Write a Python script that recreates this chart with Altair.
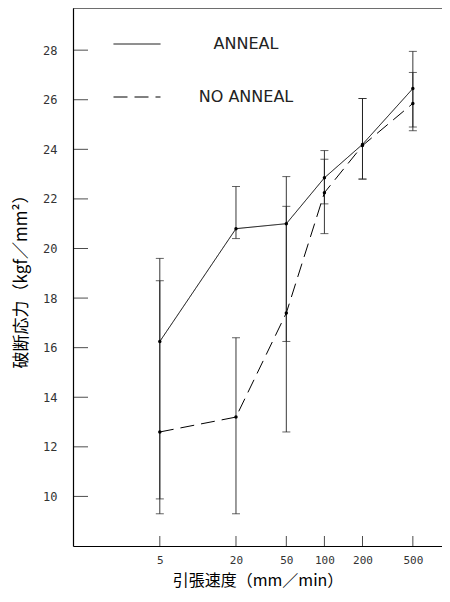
import altair as alt
import pandas as pd

# ---- data ----
speeds = [5, 20, 50, 100, 200, 500]
series_names = ["ANNEAL", "NO ANNEAL"]
anneal = [16.25, 20.8, 21.0, 22.85, 24.2, 26.45]
no_anneal = [12.6, 13.2, 17.4, 22.25, 24.15, 25.85]
anneal_low = [9.9, 20.4, 16.25, 21.8, 22.8, 24.9]
anneal_high = [19.6, 22.5, 22.9, 23.95, 26.05, 27.95]
no_low = [9.3, 9.3, 12.6, 20.6, 22.8, 24.75]
no_high = [18.7, 16.4, 21.7, 23.6, 26.05, 27.1]
x_ticks = [5, 20, 50, 100, 200, 500]
y_ticks = [10, 12, 14, 16, 18, 20, 22, 24, 26, 28]

W, H = 369, 538

rows = []
for i, s in enumerate(speeds):
    rows.append(dict(speed=s, series="ANNEAL", value=anneal[i], low=anneal_low[i], high=anneal_high[i]))
    rows.append(dict(speed=s, series="NO ANNEAL", value=no_anneal[i], low=no_low[i], high=no_high[i]))
df = pd.DataFrame(rows)
caps = pd.concat([
    df[["speed", "low"]].rename(columns={"low": "cap"}),
    df[["speed", "high"]].rename(columns={"high": "cap"}),
])
xt = pd.DataFrame({"tick": x_ticks})
yt = pd.DataFrame({"tick": y_ticks})
top_df = pd.DataFrame({"k": [0]})

mono = "DejaVu Sans Mono"
cjk = "Noto Sans CJK JP"

xscale = alt.Scale(type="log", domain=[1.03, 850], nice=False)
yscale = alt.Scale(domain=[8, 29.7], nice=False, zero=False)
xaxis = alt.Axis(values=x_ticks, format="d", ticks=False, grid=False, domain=True,
                 domainColor="black", domainWidth=1.2, labelPadding=8,
                 labelFont=mono, labelFontSize=11, labelColor="#333",
                 title="引張速度（mm／min）", titleFont=cjk, titleFontSize=16,
                 titleFontWeight="normal", titlePadding=7, titleColor="black")
yaxis = alt.Axis(values=y_ticks, ticks=False, grid=False, domain=True,
                 domainColor="black", domainWidth=1.2, labelPadding=16,
                 labelFont=mono, labelFontSize=12, labelColor="#333",
                 title="破断応力（kgf／mm²）", titleFont=cjk, titleFontSize=17,
                 titleFontWeight="normal", titlePadding=12, titleColor="black")


def X(field):
    return alt.X(field, type="quantitative", scale=xscale, axis=xaxis)


def Y(field):
    return alt.Y(field, type="quantitative", scale=yscale, axis=yaxis)


base = alt.Chart(df)

lines = base.mark_line(color="black", strokeWidth=1).encode(
    x=X("speed"), y=Y("value"),
    strokeDash=alt.StrokeDash(
        "series:N",
        scale=alt.Scale(domain=series_names, range=[[1, 0], [14, 7]]),
        legend=alt.Legend(orient="none", legendX=40, legendY=12, title=None,
                          symbolType="stroke", symbolSize=2209, symbolStrokeWidth=1,
                          symbolStrokeColor="black", labelOffset=85, labelAlign="center",
                          rowPadding=21, labelFontSize=16, labelFont="DejaVu Sans",
                          labelColor="#222", padding=0),
    ),
    detail="series:N",
)

points = base.mark_circle(color="black", size=12, opacity=1).encode(
    x=X("speed"), y=Y("value"))

bars = base.mark_rule(color="#222", strokeWidth=0.9).encode(
    x=X("speed"), y=Y("low"), y2="high")

capm = alt.Chart(caps).mark_tick(color="#222", orient="horizontal", size=8, thickness=1).encode(
    x=X("speed"), y=Y("cap"))

# inward axis ticks (the axis itself only draws outward ticks)
xtick = alt.Chart(xt).mark_tick(color="black", orient="vertical", size=10, thickness=1,
                                yOffset=-5).encode(
    x=X("tick"), y=alt.datum(8))

ytick = alt.Chart(yt).mark_tick(color="black", orient="horizontal", size=15, thickness=1,
                                xOffset=7.5).encode(
    y=Y("tick"), x=alt.datum(1.03))

top = alt.Chart(top_df).mark_rule(color="black", strokeWidth=1.2).encode(
    x=alt.value(0), x2=alt.value(W), y=alt.value(0))

chart = alt.layer(bars, capm, lines, points, xtick, ytick, top).properties(
    width=W, height=H,
    autosize=alt.AutoSizeParams(type="none"),
    padding={"left": 65, "top": 0, "right": 0, "bottom": 44},
).configure_view(stroke=None).configure(background="white")

chart.save("out.html", embed_options={"renderer": "svg", "actions": False})
